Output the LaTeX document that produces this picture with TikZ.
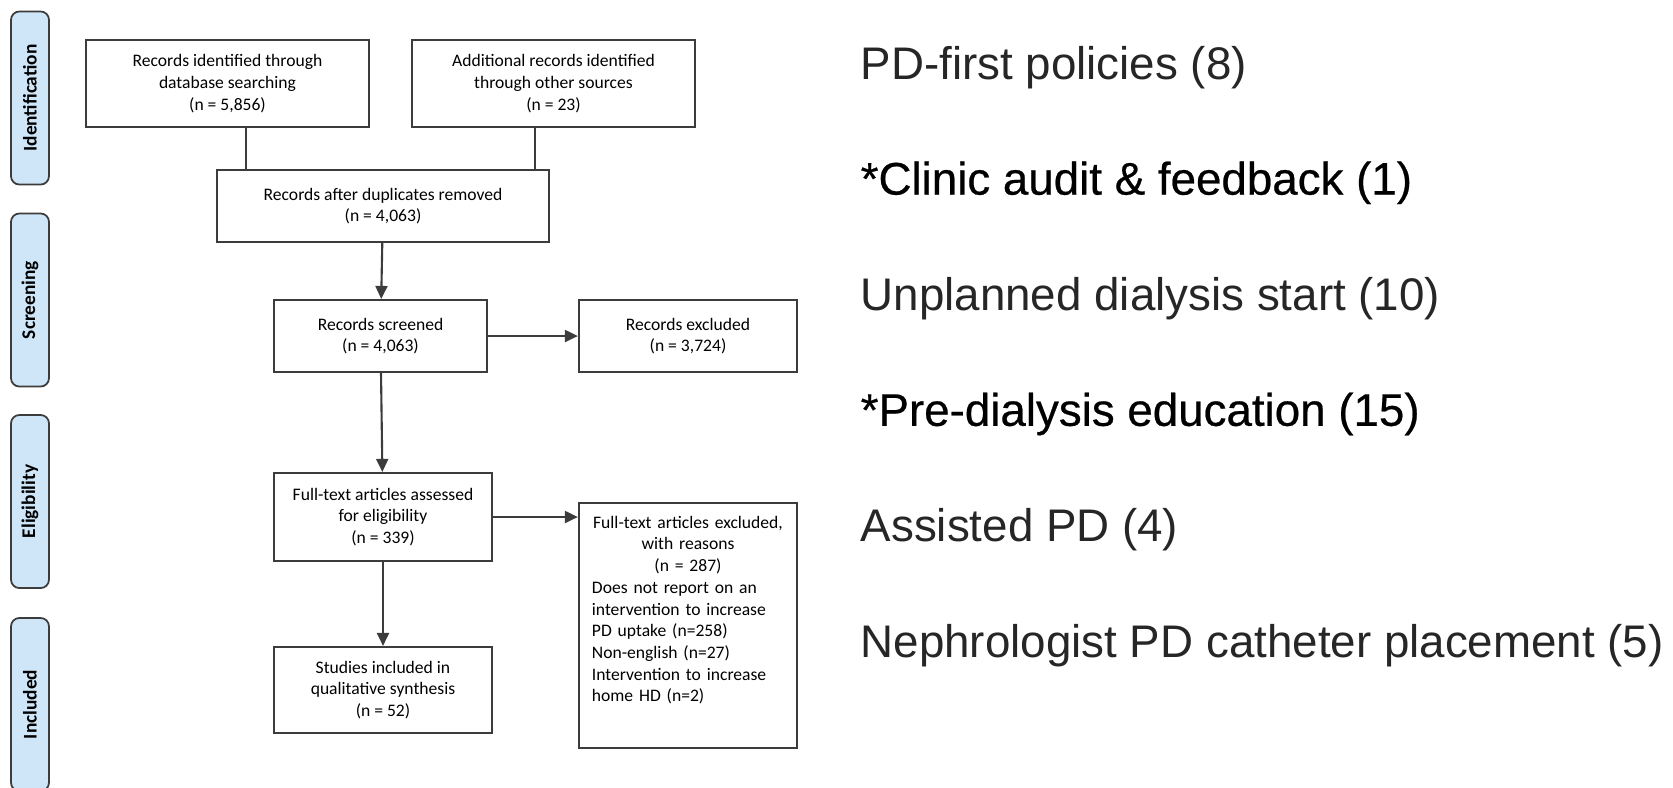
\documentclass[tikz,border=0pt]{standalone}
\usepackage{tikz}
\usepackage{fontspec}
\usetikzlibrary{arrows.meta}
\setmainfont{Carlito}
\newfontfamily\listLight{Liberation Sans}
\newfontfamily\listStrong[FakeBold=0.5]{Liberation Sans}
\definecolor{tabBlue}{RGB}{207,230,248}
\definecolor{edgeGray}{RGB}{60,60,60}
\newcommand{\boxFont}{\fontsize{5}{6.17}\selectfont}
\tikzset{
  phasetab/.style={draw=edgeGray, line width=0.5pt, fill=tabBlue, rounded corners=2.4pt,
    rotate=90, minimum width=1.73cm, minimum height=0.38cm, inner sep=0pt,
    font=\fontsize{5.5}{6}\selectfont\bfseries},
  prismabox/.style={draw=edgeGray, line width=0.6pt, fill=white, align=center,
    inner sep=0pt, font=\boxFont},
  link/.style={draw=edgeGray, line width=0.6pt},
  flow/.style={link, -{Triangle[length=0.13cm,width=0.12cm]}},
  intervention/.style={anchor=base west, inner sep=0pt, font=\fontsize{13}{15}\selectfont}
}

\begin{document}
\begin{tikzpicture}[x=0.01cm,y=-0.01cm]
\clip (0,0) rectangle (1673,787);
% phase tabs
\node[phasetab] (tabIdent) at (30,98) {Identification};
\node[phasetab] (tabScreen) at (30,300) {Screening};
\node[phasetab] (tabElig) at (30,501.5) {Eligibility};
\node[phasetab] (tabIncl) at (30,704.5) {Included};
% flow boxes
\node[prismabox, minimum width=2.83cm, minimum height=0.87cm] (dbRecords) at (227.5,83.5)
  {Records identified through\\database searching\\(n = 5,856)};
\node[prismabox, minimum width=2.83cm, minimum height=0.87cm] (otherRecords) at (553.5,83.5)
  {Additional records identified\\through other sources\\(n = 23)};
\node[prismabox, minimum width=3.32cm, minimum height=0.72cm] (dedup) at (383,206)
  {Records after duplicates removed\\(n = 4,063)};
\node[prismabox, minimum width=2.13cm, minimum height=0.72cm] (screened) at (380.5,336)
  {Records screened\\(n = 4,063)};
\node[prismabox, minimum width=2.18cm, minimum height=0.72cm] (excluded) at (688,336)
  {Records excluded\\(n = 3,724)};
\node[prismabox, minimum width=2.18cm, minimum height=0.88cm] (fullText) at (383,517)
  {Full-text articles assessed\\for eligibility\\(n = 339)};
\node[prismabox, minimum width=2.18cm, minimum height=2.45cm] (ftExcluded) at (688,625.5) {};
\node[anchor=north, inner sep=0pt, text width=1.92cm, align=left, font=\boxFont]
  (ftReasons) at ([yshift=-0.134cm]ftExcluded.north)
  {\makebox[1.92cm]{Full-text articles excluded,}\\
   \makebox[1.92cm]{with reasons}\\
   \makebox[1.92cm]{(n = 287)}\\
   Does not report on an\\
   intervention to increase\\
   PD uptake (n=258)\\
   Non-english (n=27)\\
   Intervention to increase\\
   home HD (n=2)};
\node[prismabox, minimum width=2.18cm, minimum height=0.86cm] (included) at (383,690)
  {Studies included in\\qualitative synthesis\\(n = 52)};
% connectors
\draw[link] (dbRecords.south) ++(18.5,0) coordinate (dbFoot) -- (dbFoot |- dedup.north);
\draw[link] (otherRecords.south) ++(-18.5,0) coordinate (otherFoot) -- (otherFoot |- dedup.north);
\draw[flow] (dedup) -- (screened);
\draw[flow] (screened) -- (excluded);
\draw[flow] (screened) -- (fullText);
\draw[flow] (fullText.east) -- (fullText.east -| ftExcluded.west);
\draw[flow] (fullText) -- (included);
% intervention list
\node[intervention, text=black!85] (pdFirst) at (860,79) {\listLight PD-first policies (8)};
\node[intervention] (audit) at (860,194.6) {\listStrong *Clinic audit \& feedback (1)};
\node[intervention, text=black!85] (unplanned) at (860,310.2) {\listLight Unplanned dialysis start (10)};
\node[intervention] (education) at (860,425.8) {\listStrong *Pre-dialysis education (15)};
\node[intervention, text=black!85] (assisted) at (860,541.4) {\listLight Assisted PD (4)};
\node[intervention, text=black!85] (catheter) at (860,657) {\listLight Nephrologist PD catheter placement (5)};
\end{tikzpicture}
\end{document}
